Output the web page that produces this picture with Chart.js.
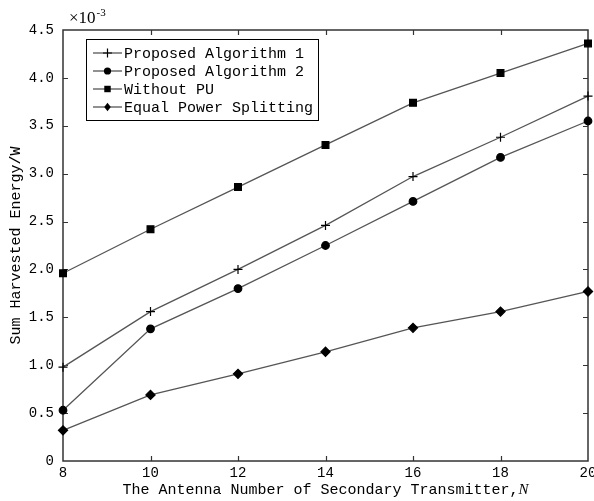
<!DOCTYPE html>
<html><head><meta charset="utf-8">
<script src="https://cdn.jsdelivr.net/npm/chart.js@4"></script>
<style>html,body{margin:0;padding:0;background:#fff}</style>
</head><body>
<canvas id="c" width="594" height="501"></canvas>
<script>
const antennaN = [8, 10, 12, 14, 16, 18, 20];
const proposedAlg1 = [0.98, 1.56, 2.00, 2.46, 2.97, 3.38, 3.81];
const proposedAlg2 = [0.53, 1.38, 1.80, 2.25, 2.71, 3.17, 3.55];
const withoutPU = [1.96, 2.42, 2.86, 3.30, 3.74, 4.05, 4.36];
const equalPS = [0.32, 0.69, 0.91, 1.14, 1.39, 1.56, 1.77];
const seriesNames = ['Proposed Algorithm 1', 'Proposed Algorithm 2', 'Without PU', 'Equal Power Splitting'];
const xTickValues = [8, 10, 12, 14, 16, 18, 20];
const yTickValues = [0, 0.5, 1.0, 1.5, 2.0, 2.5, 3.0, 3.5, 4.0, 4.5];
const yTitle = 'Sum Harvested Energy/W';
const xTitle = 'The Antenna Number of Secondary Transmitter,';
const xTitleVar = 'N';
const yExponent = '-3';

const MONO = '"Liberation Mono", "DejaVu Sans Mono", monospace';
const LINE = '#555555';

function pts(arr) { return antennaN.map((n, i) => ({ x: n, y: arr[i] })); }

const styles = [
  { pointStyle: 'cross', pointRadius: 4.5 },
  { pointStyle: 'circle', pointRadius: 3.8 },
  { pointStyle: 'rect', pointRadius: 4.8 },
  { pointStyle: 'rectRot', pointRadius: 4.6 }
];
const allSeries = [proposedAlg1, proposedAlg2, withoutPU, equalPS];

const datasets = allSeries.map((s, i) => ({
  label: seriesNames[i],
  data: pts(s),
  borderColor: LINE,
  borderWidth: 1.3,
  backgroundColor: '#000',
  pointBackgroundColor: '#000',
  pointBorderColor: '#000',
  pointBorderWidth: 1.2,
  pointStyle: styles[i].pointStyle,
  pointRadius: styles[i].pointRadius,
  tension: 0,
  clip: false
}));

function drawMarker(ctx, style, r, x, y) {
  ctx.save();
  ctx.fillStyle = '#000';
  ctx.strokeStyle = '#000';
  ctx.lineWidth = 1.2;
  ctx.beginPath();
  if (style === 'cross') {
    ctx.moveTo(x - r, y); ctx.lineTo(x + r, y);
    ctx.moveTo(x, y - r); ctx.lineTo(x, y + r);
    ctx.stroke();
  } else if (style === 'circle') {
    ctx.arc(x, y, r, 0, Math.PI * 2); ctx.fill();
  } else if (style === 'rect') {
    const s = r * Math.SQRT1_2;
    ctx.rect(x - s, y - s, 2 * s, 2 * s); ctx.fill();
  } else {
    ctx.moveTo(x, y - r); ctx.lineTo(x + r * 0.75, y); ctx.lineTo(x, y + r); ctx.lineTo(x - r * 0.75, y); ctx.closePath(); ctx.fill();
  }
  ctx.restore();
}

const framePlugin = {
  id: 'frame',
  beforeDatasetsDraw(chart) {
    const { ctx, chartArea: a, scales: { x, y } } = chart;
    ctx.save();
    ctx.strokeStyle = '#333';
    ctx.lineWidth = 1.5;
    ctx.strokeRect(a.left, a.top, a.right - a.left, a.bottom - a.top);
    ctx.lineWidth = 1.2;
    ctx.beginPath();
    const tl = 5;
    xTickValues.forEach(v => {
      if (v === x.min || v === x.max) return;
      const px = Math.round(x.getPixelForValue(v)) + 0.5;
      ctx.moveTo(px, a.bottom); ctx.lineTo(px, a.bottom - tl);
      ctx.moveTo(px, a.top); ctx.lineTo(px, a.top + tl);
    });
    yTickValues.forEach(v => {
      if (v === y.min || v === y.max) return;
      const py = Math.round(y.getPixelForValue(v)) + 0.5;
      ctx.moveTo(a.left, py); ctx.lineTo(a.left + tl, py);
      ctx.moveTo(a.right, py); ctx.lineTo(a.right - tl, py);
    });
    ctx.stroke();
    ctx.restore();
  },
  afterDraw(chart) {
    const { ctx, chartArea: a } = chart;
    ctx.save();
    // exponent
    ctx.fillStyle = '#000';
    ctx.textBaseline = 'alphabetic';
    ctx.textAlign = 'left';
    ctx.font = '17px "Liberation Serif", serif';
    const base = '\u00d710';
    ctx.fillText(base, 69, 23);
    const bw = ctx.measureText(base).width;
    ctx.font = '11px "Liberation Serif", serif';
    ctx.fillText(yExponent, 69 + bw + 1, 16);
    // x title
    ctx.font = '15px ' + MONO;
    const w1 = ctx.measureText(xTitle).width;
    ctx.font = 'italic 15px "Liberation Serif", serif';
    const w2 = ctx.measureText(xTitleVar).width;
    const cx = (a.left + a.right) / 2;
    const sx = cx - (w1 + w2) / 2;
    ctx.textBaseline = 'middle';
    ctx.font = '15px ' + MONO;
    ctx.fillText(xTitle, sx, 490);
    ctx.font = 'italic 15px "Liberation Serif", serif';
    ctx.fillText(xTitleVar, sx + w1, 490);
    // legend
    ctx.fillStyle = '#fff';
    ctx.fillRect(86, 39, 232, 81);
    ctx.strokeStyle = '#000';
    ctx.lineWidth = 1;
    ctx.strokeRect(86.5, 39.5, 232, 81);
    chart.data.datasets.forEach((ds, i) => {
      const ry = 53 + 18 * i;
      ctx.strokeStyle = LINE;
      ctx.lineWidth = 1.3;
      ctx.beginPath();
      ctx.moveTo(93, ry); ctx.lineTo(122, ry);
      ctx.stroke();
      drawMarker(ctx, ds.pointStyle, ds.pointRadius * (ds.pointStyle === 'cross' ? 1 : 0.95), 107.5, ry);
      ctx.fillStyle = '#000';
      ctx.font = '15px ' + MONO;
      ctx.textBaseline = 'middle';
      ctx.fillText(ds.label, 124, ry + 1);
    });
    ctx.restore();
  }
};

new Chart(document.getElementById('c'), {
  type: 'line',
  data: { datasets },
  options: {
    responsive: false,
    animation: false,
    devicePixelRatio: 1,
    layout: { padding: { top: 30, right: 2, left: 0, bottom: 0 } },
    plugins: { legend: { display: false }, tooltip: { enabled: false } },
    scales: {
      x: {
        type: 'linear', min: 8, max: 20,
        afterBuildTicks: s => { s.ticks = xTickValues.map(v => ({ value: v })); },
        ticks: { font: { family: MONO, size: 14 }, color: '#000', padding: 4, maxRotation: 0, autoSkip: false },
        grid: { display: false, drawTicks: false },
        border: { display: false },
        afterFit: s => { s.height = 40; s.paddingLeft = 0; s.paddingRight = 0; }
      },
      y: {
        type: 'linear', min: 0, max: 4.5,
        afterBuildTicks: s => { s.ticks = yTickValues.map(v => ({ value: v })); },
        ticks: {
          font: { family: MONO, size: 14 }, color: '#000', padding: 9,
          callback: v => v === 0 ? '0' : v.toFixed(1)
        },
        grid: { display: false, drawTicks: false },
        border: { display: false },
        title: { display: true, text: yTitle, font: { family: MONO, size: 15 }, color: '#000', padding: { top: 7, bottom: 0 } },
        afterFit: s => { s.width = 63; s.paddingTop = 0; s.paddingBottom = 0; }
      }
    }
  },
  plugins: [framePlugin]
});
</script>
</body></html>
